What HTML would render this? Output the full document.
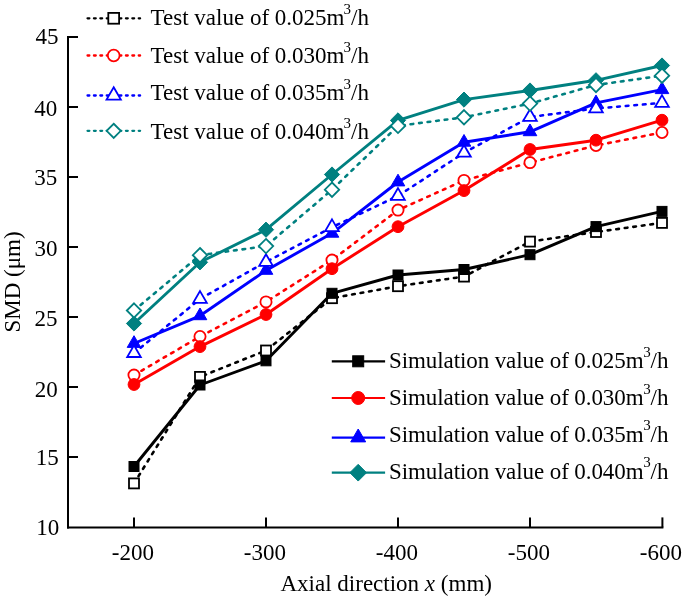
<!DOCTYPE html>
<html><head><meta charset="utf-8"><style>html,body{margin:0;padding:0;background:#fff;width:685px;height:602px;overflow:hidden}svg{display:block;will-change:transform}</style></head>
<body><svg width="685" height="602" viewBox="0 0 685 602" font-family="'Liberation Serif', serif" fill="#000">
<rect width="685" height="602" fill="#fff"/>
<polyline points="134,483.4 200,376.9 266,350.5 332,298.2 398,286.2 464,276.6 530,241.6 596,232.0 662,222.9" fill="none" stroke="#000000" stroke-width="2.6" stroke-dasharray="2.7 5.9" stroke-linecap="round" stroke-linejoin="round"/><rect x="129.00" y="478.40" width="10.00" height="10.00" fill="#fff" stroke="#000000" stroke-width="1.8"/><rect x="195.00" y="371.90" width="10.00" height="10.00" fill="#fff" stroke="#000000" stroke-width="1.8"/><rect x="261.00" y="345.50" width="10.00" height="10.00" fill="#fff" stroke="#000000" stroke-width="1.8"/><rect x="327.00" y="293.20" width="10.00" height="10.00" fill="#fff" stroke="#000000" stroke-width="1.8"/><rect x="393.00" y="281.20" width="10.00" height="10.00" fill="#fff" stroke="#000000" stroke-width="1.8"/><rect x="459.00" y="271.60" width="10.00" height="10.00" fill="#fff" stroke="#000000" stroke-width="1.8"/><rect x="525.00" y="236.60" width="10.00" height="10.00" fill="#fff" stroke="#000000" stroke-width="1.8"/><rect x="591.00" y="227.00" width="10.00" height="10.00" fill="#fff" stroke="#000000" stroke-width="1.8"/><rect x="657.00" y="217.90" width="10.00" height="10.00" fill="#fff" stroke="#000000" stroke-width="1.8"/><polyline points="134,466.5 200,385.0 266,360.8 332,293.3 398,275.0 464,269.5 530,254.7 596,226.6 662,211.4" fill="none" stroke="#000000" stroke-width="2.9" stroke-linejoin="round"/><rect x="129.00" y="461.50" width="10.00" height="10.00" fill="#000000" stroke="#000000" stroke-width="1.0"/><rect x="195.00" y="380.00" width="10.00" height="10.00" fill="#000000" stroke="#000000" stroke-width="1.0"/><rect x="261.00" y="355.80" width="10.00" height="10.00" fill="#000000" stroke="#000000" stroke-width="1.0"/><rect x="327.00" y="288.30" width="10.00" height="10.00" fill="#000000" stroke="#000000" stroke-width="1.0"/><rect x="393.00" y="270.00" width="10.00" height="10.00" fill="#000000" stroke="#000000" stroke-width="1.0"/><rect x="459.00" y="264.50" width="10.00" height="10.00" fill="#000000" stroke="#000000" stroke-width="1.0"/><rect x="525.00" y="249.70" width="10.00" height="10.00" fill="#000000" stroke="#000000" stroke-width="1.0"/><rect x="591.00" y="221.60" width="10.00" height="10.00" fill="#000000" stroke="#000000" stroke-width="1.0"/><rect x="657.00" y="206.40" width="10.00" height="10.00" fill="#000000" stroke="#000000" stroke-width="1.0"/><polyline points="134,375.1 200,336.5 266,301.9 332,260.1 398,210.1 464,180.4 530,162.6 596,145.5 662,132.5" fill="none" stroke="#ff0000" stroke-width="2.6" stroke-dasharray="2.7 5.9" stroke-linecap="round" stroke-linejoin="round"/><circle cx="134.00" cy="375.10" r="5.60" fill="#fff" stroke="#ff0000" stroke-width="1.8"/><circle cx="200.00" cy="336.50" r="5.60" fill="#fff" stroke="#ff0000" stroke-width="1.8"/><circle cx="266.00" cy="301.90" r="5.60" fill="#fff" stroke="#ff0000" stroke-width="1.8"/><circle cx="332.00" cy="260.10" r="5.60" fill="#fff" stroke="#ff0000" stroke-width="1.8"/><circle cx="398.00" cy="210.10" r="5.60" fill="#fff" stroke="#ff0000" stroke-width="1.8"/><circle cx="464.00" cy="180.40" r="5.60" fill="#fff" stroke="#ff0000" stroke-width="1.8"/><circle cx="530.00" cy="162.60" r="5.60" fill="#fff" stroke="#ff0000" stroke-width="1.8"/><circle cx="596.00" cy="145.50" r="5.60" fill="#fff" stroke="#ff0000" stroke-width="1.8"/><circle cx="662.00" cy="132.50" r="5.60" fill="#fff" stroke="#ff0000" stroke-width="1.8"/><polyline points="134,384.5 200,346.6 266,314.5 332,268.7 398,226.7 464,190.6 530,149.5 596,140.2 662,120.2" fill="none" stroke="#ff0000" stroke-width="2.9" stroke-linejoin="round"/><circle cx="134.00" cy="384.50" r="5.90" fill="#ff0000" stroke="#ff0000" stroke-width="1.0"/><circle cx="200.00" cy="346.60" r="5.90" fill="#ff0000" stroke="#ff0000" stroke-width="1.0"/><circle cx="266.00" cy="314.50" r="5.90" fill="#ff0000" stroke="#ff0000" stroke-width="1.0"/><circle cx="332.00" cy="268.70" r="5.90" fill="#ff0000" stroke="#ff0000" stroke-width="1.0"/><circle cx="398.00" cy="226.70" r="5.90" fill="#ff0000" stroke="#ff0000" stroke-width="1.0"/><circle cx="464.00" cy="190.60" r="5.90" fill="#ff0000" stroke="#ff0000" stroke-width="1.0"/><circle cx="530.00" cy="149.50" r="5.90" fill="#ff0000" stroke="#ff0000" stroke-width="1.0"/><circle cx="596.00" cy="140.20" r="5.90" fill="#ff0000" stroke="#ff0000" stroke-width="1.0"/><circle cx="662.00" cy="120.20" r="5.90" fill="#ff0000" stroke="#ff0000" stroke-width="1.0"/><polyline points="134,343.5 200,315.8 266,270.4 332,233.3 398,182.0 464,142.3 530,131.8 596,102.9 662,89.7" fill="none" stroke="#0000ff" stroke-width="2.9" stroke-linejoin="round"/><path d="M134.00 335.70L140.80 347.40L127.20 347.40Z" fill="#0000ff" stroke="#0000ff" stroke-width="1.0" stroke-linejoin="miter"/><path d="M200.00 308.00L206.80 319.70L193.20 319.70Z" fill="#0000ff" stroke="#0000ff" stroke-width="1.0" stroke-linejoin="miter"/><path d="M266.00 262.60L272.80 274.30L259.20 274.30Z" fill="#0000ff" stroke="#0000ff" stroke-width="1.0" stroke-linejoin="miter"/><path d="M332.00 225.50L338.80 237.20L325.20 237.20Z" fill="#0000ff" stroke="#0000ff" stroke-width="1.0" stroke-linejoin="miter"/><path d="M398.00 174.20L404.80 185.90L391.20 185.90Z" fill="#0000ff" stroke="#0000ff" stroke-width="1.0" stroke-linejoin="miter"/><path d="M464.00 134.50L470.80 146.20L457.20 146.20Z" fill="#0000ff" stroke="#0000ff" stroke-width="1.0" stroke-linejoin="miter"/><path d="M530.00 124.00L536.80 135.70L523.20 135.70Z" fill="#0000ff" stroke="#0000ff" stroke-width="1.0" stroke-linejoin="miter"/><path d="M596.00 95.10L602.80 106.80L589.20 106.80Z" fill="#0000ff" stroke="#0000ff" stroke-width="1.0" stroke-linejoin="miter"/><path d="M662.00 81.90L668.80 93.60L655.20 93.60Z" fill="#0000ff" stroke="#0000ff" stroke-width="1.0" stroke-linejoin="miter"/><polyline points="134,353.1 200,298.9 266,262.0 332,227.2 398,195.9 464,152.8 530,117.0 596,108.5 662,102.9" fill="none" stroke="#0000ff" stroke-width="2.6" stroke-dasharray="2.7 5.9" stroke-linecap="round" stroke-linejoin="round"/><path d="M134.00 345.30L140.80 357.00L127.20 357.00Z" fill="#fff" stroke="#0000ff" stroke-width="1.8" stroke-linejoin="miter"/><path d="M200.00 291.10L206.80 302.80L193.20 302.80Z" fill="#fff" stroke="#0000ff" stroke-width="1.8" stroke-linejoin="miter"/><path d="M266.00 254.20L272.80 265.90L259.20 265.90Z" fill="#fff" stroke="#0000ff" stroke-width="1.8" stroke-linejoin="miter"/><path d="M332.00 219.40L338.80 231.10L325.20 231.10Z" fill="#fff" stroke="#0000ff" stroke-width="1.8" stroke-linejoin="miter"/><path d="M398.00 188.10L404.80 199.80L391.20 199.80Z" fill="#fff" stroke="#0000ff" stroke-width="1.8" stroke-linejoin="miter"/><path d="M464.00 145.00L470.80 156.70L457.20 156.70Z" fill="#fff" stroke="#0000ff" stroke-width="1.8" stroke-linejoin="miter"/><path d="M530.00 109.20L536.80 120.90L523.20 120.90Z" fill="#fff" stroke="#0000ff" stroke-width="1.8" stroke-linejoin="miter"/><path d="M596.00 100.70L602.80 112.40L589.20 112.40Z" fill="#fff" stroke="#0000ff" stroke-width="1.8" stroke-linejoin="miter"/><path d="M662.00 95.10L668.80 106.80L655.20 106.80Z" fill="#fff" stroke="#0000ff" stroke-width="1.8" stroke-linejoin="miter"/><polyline points="134,323.5 200,262.3 266,229.7 332,174.5 398,120.4 464,99.6 530,90.5 596,80.3 662,65.5" fill="none" stroke="#008080" stroke-width="2.9" stroke-linejoin="round"/><path d="M134.00 315.90L141.60 323.50L134.00 331.10L126.40 323.50Z" fill="#008080" stroke="#008080" stroke-width="1.0" stroke-linejoin="miter"/><path d="M200.00 254.70L207.60 262.30L200.00 269.90L192.40 262.30Z" fill="#008080" stroke="#008080" stroke-width="1.0" stroke-linejoin="miter"/><path d="M266.00 222.10L273.60 229.70L266.00 237.30L258.40 229.70Z" fill="#008080" stroke="#008080" stroke-width="1.0" stroke-linejoin="miter"/><path d="M332.00 166.90L339.60 174.50L332.00 182.10L324.40 174.50Z" fill="#008080" stroke="#008080" stroke-width="1.0" stroke-linejoin="miter"/><path d="M398.00 112.80L405.60 120.40L398.00 128.00L390.40 120.40Z" fill="#008080" stroke="#008080" stroke-width="1.0" stroke-linejoin="miter"/><path d="M464.00 92.00L471.60 99.60L464.00 107.20L456.40 99.60Z" fill="#008080" stroke="#008080" stroke-width="1.0" stroke-linejoin="miter"/><path d="M530.00 82.90L537.60 90.50L530.00 98.10L522.40 90.50Z" fill="#008080" stroke="#008080" stroke-width="1.0" stroke-linejoin="miter"/><path d="M596.00 72.70L603.60 80.30L596.00 87.90L588.40 80.30Z" fill="#008080" stroke="#008080" stroke-width="1.0" stroke-linejoin="miter"/><path d="M662.00 57.90L669.60 65.50L662.00 73.10L654.40 65.50Z" fill="#008080" stroke="#008080" stroke-width="1.0" stroke-linejoin="miter"/><polyline points="134,310.5 200,255.2 266,246.1 332,189.7 398,125.9 464,117.3 530,103.6 596,85.0 662,75.7" fill="none" stroke="#008080" stroke-width="2.6" stroke-dasharray="2.7 5.9" stroke-linecap="round" stroke-linejoin="round"/><path d="M134.00 303.30L141.20 310.50L134.00 317.70L126.80 310.50Z" fill="#fff" stroke="#008080" stroke-width="1.8" stroke-linejoin="miter"/><path d="M200.00 248.00L207.20 255.20L200.00 262.40L192.80 255.20Z" fill="#fff" stroke="#008080" stroke-width="1.8" stroke-linejoin="miter"/><path d="M266.00 238.90L273.20 246.10L266.00 253.30L258.80 246.10Z" fill="#fff" stroke="#008080" stroke-width="1.8" stroke-linejoin="miter"/><path d="M332.00 182.50L339.20 189.70L332.00 196.90L324.80 189.70Z" fill="#fff" stroke="#008080" stroke-width="1.8" stroke-linejoin="miter"/><path d="M398.00 118.70L405.20 125.90L398.00 133.10L390.80 125.90Z" fill="#fff" stroke="#008080" stroke-width="1.8" stroke-linejoin="miter"/><path d="M464.00 110.10L471.20 117.30L464.00 124.50L456.80 117.30Z" fill="#fff" stroke="#008080" stroke-width="1.8" stroke-linejoin="miter"/><path d="M530.00 96.40L537.20 103.60L530.00 110.80L522.80 103.60Z" fill="#fff" stroke="#008080" stroke-width="1.8" stroke-linejoin="miter"/><path d="M596.00 77.80L603.20 85.00L596.00 92.20L588.80 85.00Z" fill="#fff" stroke="#008080" stroke-width="1.8" stroke-linejoin="miter"/><path d="M662.00 68.50L669.20 75.70L662.00 82.90L654.80 75.70Z" fill="#fff" stroke="#008080" stroke-width="1.8" stroke-linejoin="miter"/>
<path d="M68 36V528.4" stroke="#000" stroke-width="2" fill="none"/><path d="M67 527.4H663.4" stroke="#000" stroke-width="2" fill="none"/><path d="M68 37.0H78" stroke="#000" stroke-width="2"/><path d="M68 107.0H78" stroke="#000" stroke-width="2"/><path d="M68 177.0H78" stroke="#000" stroke-width="2"/><path d="M68 247.0H78" stroke="#000" stroke-width="2"/><path d="M68 317.0H78" stroke="#000" stroke-width="2"/><path d="M68 387.0H78" stroke="#000" stroke-width="2"/><path d="M68 457.0H78" stroke="#000" stroke-width="2"/><path d="M134 527.4V517.4" stroke="#000" stroke-width="2"/><path d="M266 527.4V517.4" stroke="#000" stroke-width="2"/><path d="M398 527.4V517.4" stroke="#000" stroke-width="2"/><path d="M530 527.4V517.4" stroke="#000" stroke-width="2"/><path d="M662.4 527.4V517.4" stroke="#000" stroke-width="2"/>
<text x="58.6" y="44.0" text-anchor="end" font-size="23">45</text><text x="57.35" y="115.8" text-anchor="end" font-size="23">40</text><text x="57.3" y="184.7" text-anchor="end" font-size="23">35</text><text x="57.55" y="255.6" text-anchor="end" font-size="23">30</text><text x="57.45" y="325.7" text-anchor="end" font-size="23">25</text><text x="57.7" y="396.5" text-anchor="end" font-size="23">20</text><text x="58.7" y="464.9" text-anchor="end" font-size="23">15</text><text x="59.2" y="535.4" text-anchor="end" font-size="23">10</text><text x="132.9" y="559.5" text-anchor="middle" font-size="23">-200</text><text x="264.9" y="559.5" text-anchor="middle" font-size="23">-300</text><text x="396.9" y="559.5" text-anchor="middle" font-size="23">-400</text><text x="528.9" y="559.5" text-anchor="middle" font-size="23">-500</text><text x="660.9" y="559.5" text-anchor="middle" font-size="23">-600</text><text x="280.5" y="590.5" font-size="23">Axial direction <tspan font-style="italic">x</tspan> (mm)</text><text transform="translate(20 282) rotate(-90)" text-anchor="middle" font-size="23">SMD (μm)</text>
<path d="M87.55 18.3H140.1" stroke="#000000" stroke-width="2.3" stroke-dasharray="1.8 4.6" stroke-linecap="round"/><rect x="108.30" y="12.90" width="10.80" height="10.80" fill="#fff" stroke="#000000" stroke-width="1.8"/><text x="150.6" y="24.9" font-size="23">Test value of 0.025m</text><text x="343.5" y="13.8" font-size="15">3</text><text x="351" y="24.9" font-size="23">/h</text><path d="M87.55 55.5H140.1" stroke="#ff0000" stroke-width="2.3" stroke-dasharray="1.8 4.6" stroke-linecap="round"/><circle cx="113.70" cy="55.50" r="5.88" fill="#fff" stroke="#ff0000" stroke-width="1.8"/><text x="150.6" y="62.6" font-size="23">Test value of 0.030m</text><text x="343.5" y="51.5" font-size="15">3</text><text x="351" y="62.6" font-size="23">/h</text><path d="M87.55 95.5H140.1" stroke="#0000ff" stroke-width="2.3" stroke-dasharray="1.8 4.6" stroke-linecap="round"/><path d="M113.70 87.31L120.84 99.59L106.56 99.59Z" fill="#fff" stroke="#0000ff" stroke-width="1.8" stroke-linejoin="miter"/><text x="150.6" y="100.1" font-size="23">Test value of 0.035m</text><text x="343.5" y="89.0" font-size="15">3</text><text x="351" y="100.1" font-size="23">/h</text><path d="M87.55 130.8H140.1" stroke="#008080" stroke-width="2.3" stroke-dasharray="1.8 4.6" stroke-linecap="round"/><path d="M113.70 123.74L120.76 130.80L113.70 137.86L106.64 130.80Z" fill="#fff" stroke="#008080" stroke-width="1.8" stroke-linejoin="miter"/><text x="150.6" y="138.8" font-size="23">Test value of 0.040m</text><text x="343.5" y="127.7" font-size="15">3</text><text x="351" y="138.8" font-size="23">/h</text>
<path d="M331.8 361.3H385.1" stroke="#000000" stroke-width="2.2"/><rect x="352.70" y="355.80" width="11.00" height="11.00" fill="#000000" stroke="#000000" stroke-width="1.0"/><text x="389" y="368.2" font-size="23" letter-spacing="-0.09">Simulation value of 0.025m</text><text x="643.3" y="357.1" font-size="15">3</text><text x="650.6" y="368.2" font-size="23">/h</text><path d="M331.8 398.0H385.1" stroke="#ff0000" stroke-width="2.2"/><circle cx="358.20" cy="398.00" r="6.49" fill="#ff0000" stroke="#ff0000" stroke-width="1.0"/><text x="389" y="405.0" font-size="23" letter-spacing="-0.09">Simulation value of 0.030m</text><text x="643.3" y="393.9" font-size="15">3</text><text x="650.6" y="405.0" font-size="23">/h</text><path d="M331.8 437.6H385.1" stroke="#0000ff" stroke-width="2.2"/><path d="M358.20 429.02L365.68 441.89L350.72 441.89Z" fill="#0000ff" stroke="#0000ff" stroke-width="1.0" stroke-linejoin="miter"/><text x="389" y="441.5" font-size="23" letter-spacing="-0.09">Simulation value of 0.035m</text><text x="643.3" y="430.4" font-size="15">3</text><text x="650.6" y="441.5" font-size="23">/h</text><path d="M331.8 472.7H385.1" stroke="#008080" stroke-width="2.2"/><path d="M358.20 464.34L366.56 472.70L358.20 481.06L349.84 472.70Z" fill="#008080" stroke="#008080" stroke-width="1.0" stroke-linejoin="miter"/><text x="389" y="478.5" font-size="23" letter-spacing="-0.09">Simulation value of 0.040m</text><text x="643.3" y="467.4" font-size="15">3</text><text x="650.6" y="478.5" font-size="23">/h</text>
</svg></body></html>
